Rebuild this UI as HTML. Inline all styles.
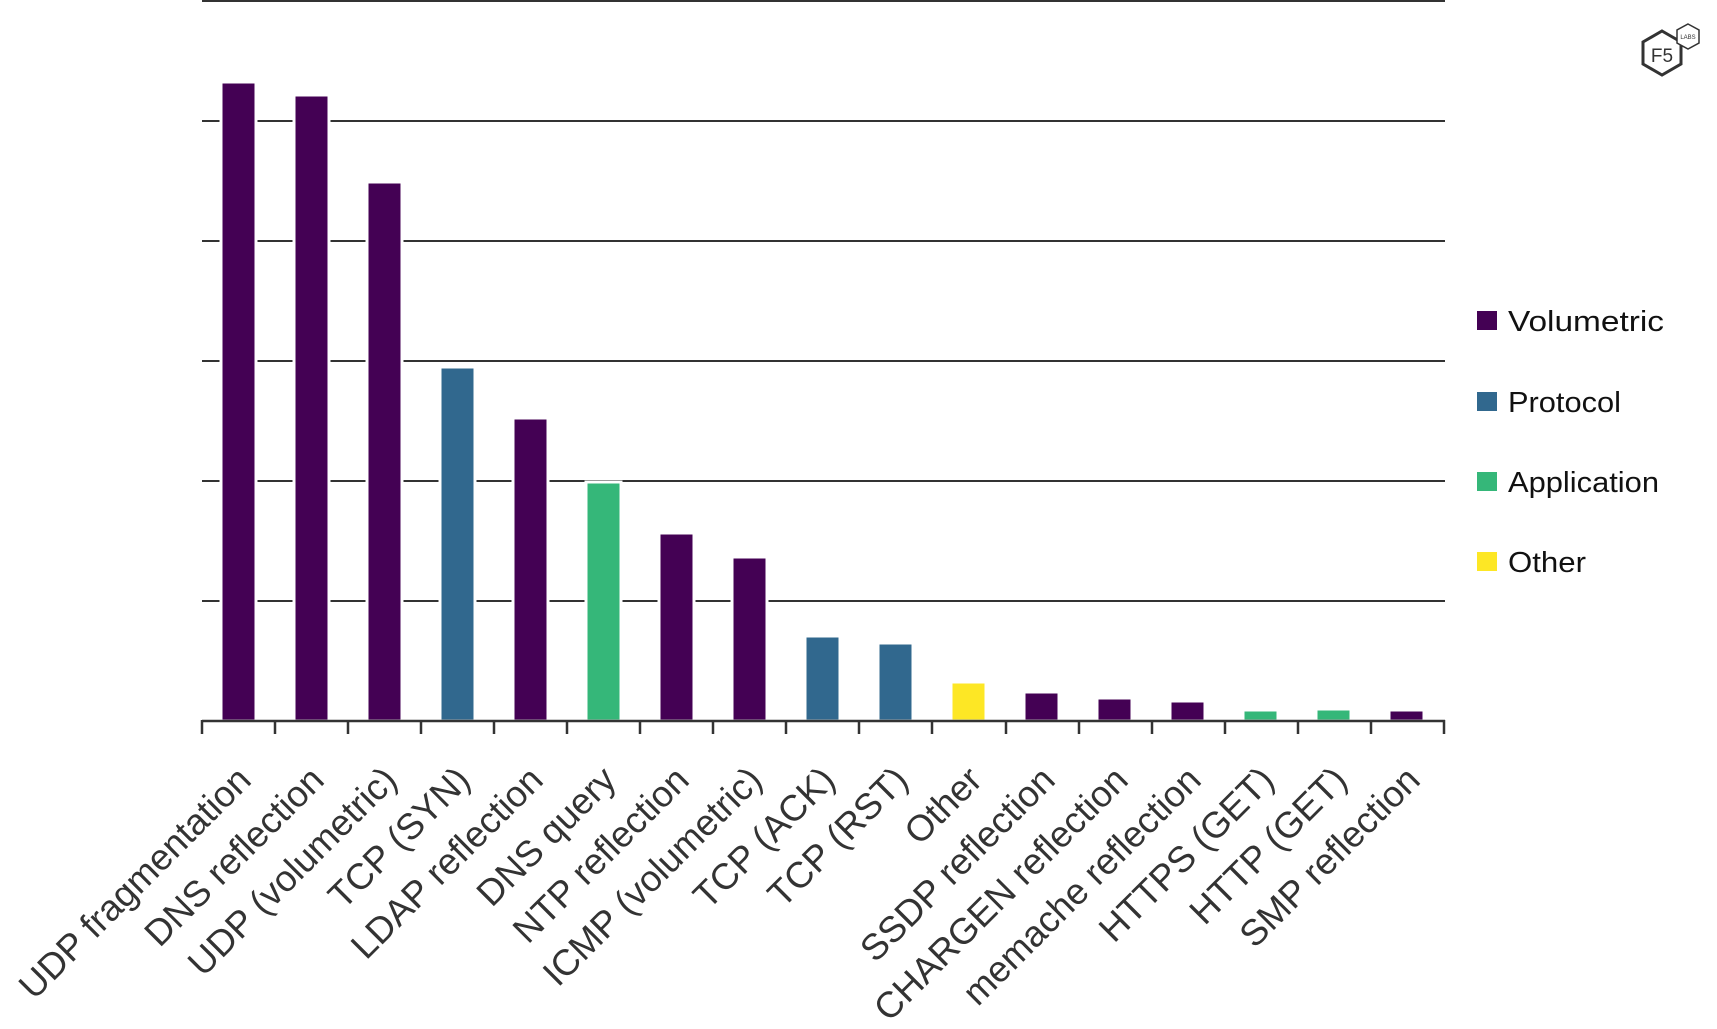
<!DOCTYPE html>
<html><head><meta charset="utf-8"><style>
html,body{margin:0;padding:0;background:#fff;width:1717px;height:1029px;overflow:hidden}
</style></head><body>
<svg width="1717" height="1029" viewBox="0 0 1717 1029" xmlns="http://www.w3.org/2000/svg">
<g stroke="#333" stroke-width="2">
<line x1="202" y1="1" x2="1445" y2="1"/>
<line x1="202" y1="121" x2="1445" y2="121"/>
<line x1="202" y1="241" x2="1445" y2="241"/>
<line x1="202" y1="361" x2="1445" y2="361"/>
<line x1="202" y1="481" x2="1445" y2="481"/>
<line x1="202" y1="601" x2="1445" y2="601"/>
</g>
<g stroke="#fff" stroke-width="3">
<rect x="221" y="82" width="35" height="639" fill="#440154"/>
<rect x="294" y="95" width="35" height="626" fill="#440154"/>
<rect x="367" y="182" width="35" height="539" fill="#440154"/>
<rect x="440" y="367" width="35" height="354" fill="#31688e"/>
<rect x="513" y="418" width="35" height="303" fill="#440154"/>
<rect x="586" y="482" width="35" height="239" fill="#35b779"/>
<rect x="659" y="533" width="35" height="188" fill="#440154"/>
<rect x="732" y="557" width="35" height="164" fill="#440154"/>
<rect x="805" y="636" width="35" height="85" fill="#31688e"/>
<rect x="878" y="643" width="35" height="78" fill="#31688e"/>
<rect x="951" y="682" width="35" height="39" fill="#fde725"/>
<rect x="1024" y="692" width="35" height="29" fill="#440154"/>
<rect x="1097" y="698" width="35" height="23" fill="#440154"/>
<rect x="1170" y="701" width="35" height="20" fill="#440154"/>
<rect x="1243" y="710" width="35" height="11" fill="#35b779"/>
<rect x="1316" y="709" width="35" height="12" fill="#35b779"/>
<rect x="1389" y="710" width="35" height="11" fill="#440154"/>
</g>
<g stroke="#333" stroke-width="2.5">
<line x1="202" y1="721" x2="1445" y2="721"/>
<line x1="202" y1="720" x2="202" y2="734"/><line x1="275" y1="720" x2="275" y2="734"/><line x1="348" y1="720" x2="348" y2="734"/><line x1="421" y1="720" x2="421" y2="734"/><line x1="494" y1="720" x2="494" y2="734"/><line x1="567" y1="720" x2="567" y2="734"/><line x1="640" y1="720" x2="640" y2="734"/><line x1="713" y1="720" x2="713" y2="734"/><line x1="786" y1="720" x2="786" y2="734"/><line x1="859" y1="720" x2="859" y2="734"/><line x1="932" y1="720" x2="932" y2="734"/><line x1="1006" y1="720" x2="1006" y2="734"/><line x1="1079" y1="720" x2="1079" y2="734"/><line x1="1152" y1="720" x2="1152" y2="734"/><line x1="1225" y1="720" x2="1225" y2="734"/><line x1="1298" y1="720" x2="1298" y2="734"/><line x1="1371" y1="720" x2="1371" y2="734"/><line x1="1444" y1="720" x2="1444" y2="734"/>
</g>
<g font-family="Liberation Sans, sans-serif" font-size="36.5" fill="#333" text-anchor="end">
<text transform="translate(253,782) rotate(-45)">UDP fragmentation</text>
<text transform="translate(326,782) rotate(-45)">DNS reflection</text>
<text transform="translate(399,782) rotate(-45)">UDP (volumetric)</text>
<text transform="translate(472,782) rotate(-45)">TCP (SYN)</text>
<text transform="translate(545,782) rotate(-45)">LDAP reflection</text>
<text transform="translate(618,782) rotate(-45)">DNS query</text>
<text transform="translate(691,782) rotate(-45)">NTP reflection</text>
<text transform="translate(764,782) rotate(-45)">ICMP (volumetric)</text>
<text transform="translate(837,782) rotate(-45)">TCP (ACK)</text>
<text transform="translate(910,782) rotate(-45)">TCP (RST)</text>
<text transform="translate(984,782) rotate(-45)">Other</text>
<text transform="translate(1057,782) rotate(-45)">SSDP reflection</text>
<text transform="translate(1130,782) rotate(-45)">CHARGEN reflection</text>
<text transform="translate(1203,782) rotate(-45)">memache reflection</text>
<text transform="translate(1276,782) rotate(-45)">HTTPS (GET)</text>
<text transform="translate(1349,782) rotate(-45)">HTTP (GET)</text>
<text transform="translate(1422,782) rotate(-45)">SMP reflection</text>
</g>
<g font-family="Liberation Sans, sans-serif" font-size="29" fill="#111">
<rect x="1477" y="311" width="20" height="19" fill="#440154"/><text x="1508" y="331" textLength="156" lengthAdjust="spacingAndGlyphs">Volumetric</text>
<rect x="1477" y="392" width="20" height="19" fill="#31688e"/><text x="1508" y="412" textLength="113" lengthAdjust="spacingAndGlyphs">Protocol</text>
<rect x="1477" y="472" width="20" height="19" fill="#35b779"/><text x="1508" y="492" textLength="151" lengthAdjust="spacingAndGlyphs">Application</text>
<rect x="1477" y="552" width="20" height="19" fill="#fde725"/><text x="1508" y="572" textLength="78" lengthAdjust="spacingAndGlyphs">Other</text>
</g>
<g fill="none" stroke="#333">
<polygon stroke-width="3" points="1662,31 1681,42 1681,64 1662,75 1643,64 1643,42"/>
<polygon fill="#fff" stroke-width="1.5" points="1688,24 1699,30 1699,43 1688,49 1677,43 1677,30"/>
</g>
<text x="1662" y="62" font-family="Liberation Sans, sans-serif" font-size="19" fill="#333" text-anchor="middle">F5</text>
<text x="1688" y="39" font-family="Liberation Sans, sans-serif" font-size="6" fill="#333" text-anchor="middle">LABS</text>
</svg>
</body></html>
